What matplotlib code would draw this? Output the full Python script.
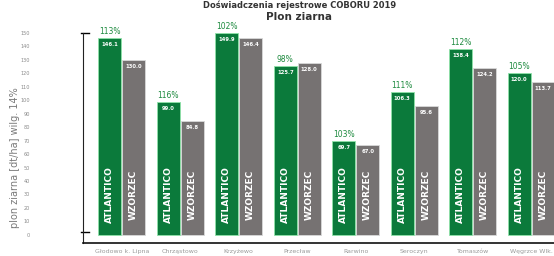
import matplotlib.pyplot as plt
import numpy as np

# data
locations = ["Głodowo k. Lipna", "Chrząstowo", "Krzyżewo", "Przecław",
             "Rarwino", "Seroczyn", "Tomaszów", "Węgrzce Wlk."]
atlantico = [146.1, 99.0, 149.9, 125.7, 69.7, 106.3, 138.4, 120.0]
wzorzec = [130.0, 84.8, 146.4, 128.0, 67.0, 95.6, 124.2, 113.7]
percent = ["113%", "116%", "102%", "98%", "103%", "111%", "112%", "105%"]
yticks = list(range(0, 151, 10))

GREEN = "#0b7a3b"
GRAY = "#767272"

fig = plt.figure(figsize=(5.54, 2.56), dpi=100)
ax = fig.add_axes([0.15, 0.051, 0.85, 0.836])

x = np.arange(len(locations))
w = 0.39
off = 0.205
ax.bar(x - off, atlantico, w, color=GREEN, edgecolor="#8fe3a8", linewidth=0.6)
ax.bar(x + off, wzorzec, w, color=GRAY, edgecolor="#d9d9d9", linewidth=0.6)

for i in range(len(locations)):
    ax.text(x[i] - off, atlantico[i] - 3, f"{atlantico[i]:.1f}", color="white",
            fontsize=3.8, fontweight="bold", ha="center", va="top")
    ax.text(x[i] + off, wzorzec[i] - 3, f"{wzorzec[i]:.1f}", color="white",
            fontsize=3.8, fontweight="bold", ha="center", va="top")
    ax.text(x[i] - off, atlantico[i] + 1.5, percent[i], color="#1d8a3e",
            fontsize=5.5, ha="center", va="bottom")
    ax.text(x[i] - off, 30, "ATLANTICO", color="white", fontsize=6.5,
            fontweight="bold", rotation=90, ha="center", va="center")
    ax.text(x[i] + off, 30, "WZORZEC", color="white", fontsize=6.5,
            fontweight="bold", rotation=90, ha="center", va="center")
    ax.text(x[i], -12.5, locations[i], color="#9a9a9a", fontsize=4.5,
            ha="center", va="center", clip_on=False)

ax.set_xlim(-0.66, 7.39)
ax.set_ylim(-6, 153)
ax.set_xticks([])
ax.set_yticks(yticks)
ax.set_yticklabels([str(t) for t in yticks], fontsize=3.6, color="#8a8a8a")
ax.tick_params(axis="y", length=0, pad=38)

# caps on the left axis line
ax.plot([-0.7, -0.56], [150, 150], color="black", lw=1, clip_on=False)
ax.plot([-0.7, -0.56], [2, 2], color="black", lw=1, clip_on=False)
ax.spines["left"].set_bounds(-6, 150)

for side in ["top", "right"]:
    ax.spines[side].set_visible(False)
ax.spines["left"].set_color("#222222")
ax.spines["bottom"].set_color("#111111")
ax.spines["bottom"].set_linewidth(1.2)

ax.set_ylabel("plon ziarna [dt/ha] wilg. 14%", fontsize=7, color="#7a7a7a")
ax.yaxis.set_label_coords(-0.135, 0.4)

fig.text(0.54, 1.0, "Doświadczenia rejestrowe COBORU 2019", ha="center",
         va="top", fontsize=6, fontweight="bold", color="#333333")
fig.text(0.54, 0.932, "Plon ziarna", ha="center", va="center", fontsize=7.5,
         fontweight="bold", color="#333333")

fig.savefig("out.png", dpi=100)
